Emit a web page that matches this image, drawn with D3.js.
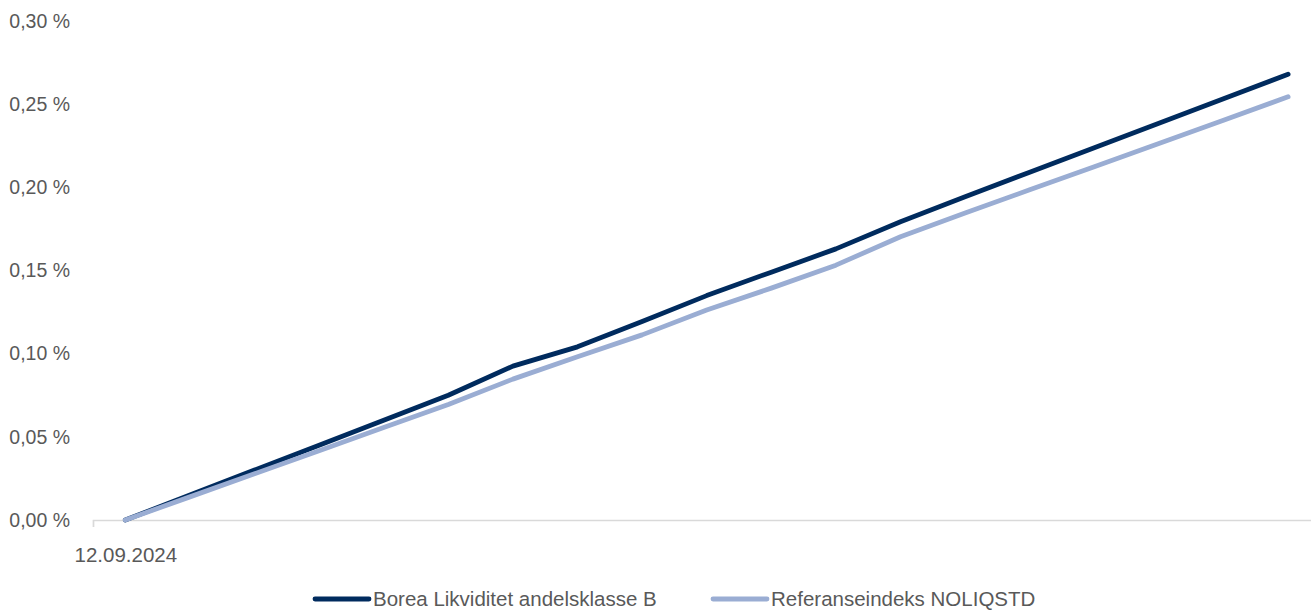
<!DOCTYPE html>
<html lang="no">
<head>
  <meta charset="UTF-8">
  <title>Borea Likviditet</title>
  <style>
    body { margin: 0; background: #fff; }
    text { font-family: "Liberation Sans", Arial, sans-serif; fill: #595959; }
    .line { fill: none; stroke-width: 4.8; stroke-linejoin: round; stroke-linecap: round; }
  </style>
  <script src="https://cdn.jsdelivr.net/npm/d3@7"></script>
</head>
<body>
<svg id="chart"></svg>
<script>

// periods since start (only the first one is labelled on the axis)
const categories = [0, 1, 2, 3, 4, 5, 6, 7, 8, 9, 10, 11, 12, 13, 14, 15, 16, 17, 18];
const tickLabels = ['12.09.2024'];
const yTicks = [0, 0.05, 0.10, 0.15, 0.20, 0.25, 0.30];

// cumulative return, %
const borea = [0, 0.015, 0.030, 0.045, 0.060, 0.075, 0.0925, 0.1041, 0.1194, 0.1349, 0.1490,
               0.1630, 0.1793, 0.1943, 0.2091, 0.2238, 0.2385, 0.2532, 0.2680];
const referanse = [0, 0.0139, 0.0278, 0.0417, 0.0556, 0.0695, 0.0847, 0.0981, 0.1113, 0.1262, 0.1394,
                   0.1532, 0.1703, 0.1845, 0.1985, 0.2124, 0.2264, 0.2404, 0.2544];

const series = [
  {name: 'Referanseindeks NOLIQSTD', values: referanse, color: '#9aadd3'},
  {name: 'Borea Likviditet andelsklasse B', values: borea, color: '#002b5e'}
];

const size = {width: 1311, height: 610};
const margin = {left: 93, top: 21, bottom: 90};
const step = 64.6;

const svg = d3.select('#chart')
              .attr('width', size.width)
              .attr('height', size.height);

const xScale = d3.scaleLinear()
                 .domain([-0.5, categories.length - 0.5])
                 .range([margin.left, margin.left + step * categories.length]);
const yScale = d3.scaleLinear()
                 .domain([0, 0.30])
                 .range([size.height - margin.bottom, margin.top]);

const pctFormat = d3.format('.2f');

// y labels
const yAxis = d3.axisLeft(yScale)
                .tickValues(yTicks)
                .tickSize(0)
                .tickPadding(0)
                .tickFormat(function(d) {
                  return pctFormat(d).replace('.', ',') + ' %';
                });
svg.append('g')
   .attr('transform', 'translate(70, 0)')
   .call(yAxis)
   .call(function(g) { g.select('.domain').remove(); })
   .selectAll('text')
   .attr('font-size', 19.5)
   .attr('font-family', '"Liberation Sans", Arial, sans-serif')
   .attr('fill', '#595959');

// x axis line + single tick at the left edge
const xAxis = d3.axisBottom(xScale)
                .tickValues([-0.5])
                .tickSizeOuter(0)
                .tickSize(7)
                .tickFormat('');
const gx = svg.append('g')
   .attr('transform', 'translate(0,' + yScale(0) + ')')
   .call(xAxis);
gx.select('.domain').attr('stroke', '#d9d9d9').attr('stroke-width', 1.4);
gx.selectAll('.tick line').attr('stroke', '#d9d9d9').attr('stroke-width', 1.4);

// x label under the first point
const xLabels = d3.axisBottom(xScale)
                  .tickValues(categories.slice(0, tickLabels.length))
                  .tickSize(0)
                  .tickPadding(27)
                  .tickFormat(function(d, i) { return tickLabels[i]; });
svg.append('g')
   .attr('transform', 'translate(0,' + yScale(0) + ')')
   .call(xLabels)
   .call(function(g) { g.select('.domain').remove(); })
   .selectAll('text')
   .attr('font-size', 20.5)
   .attr('font-family', '"Liberation Sans", Arial, sans-serif')
   .attr('fill', '#595959');

const line = d3.line()
               .x(function(d, i) { return xScale(categories[i]); })
               .y(function(d) { return yScale(d); });

// borea first, reference on top
svg.selectAll('.line')
   .data(series.slice().reverse())
   .enter()
   .append('path')
   .attr('class', 'line')
   .attr('stroke', function(d) { return d.color; })
   .attr('d', function(d) { return line(d.values); });

// legend (x = where the text starts)
const legendItems = [
  {s: series[1], x: 373},
  {s: series[0], x: 771}
];
const legend = svg.selectAll('.legend')
                  .data(legendItems)
                  .enter()
                  .append('g')
                  .attr('class', 'legend')
                  .attr('transform', function(d) { return 'translate(' + d.x + ', 599)'; });
legend.append('line')
      .attr('x1', -58).attr('x2', -4)
      .attr('stroke', function(d) { return d.s.color; })
      .attr('stroke-width', 4.8)
      .attr('stroke-linecap', 'round');
legend.append('text')
      .attr('x', 0)
      .attr('dy', '0.36em')
      .attr('font-size', 20.5)
      .text(function(d) { return d.s.name; });

</script>
</body>
</html>
